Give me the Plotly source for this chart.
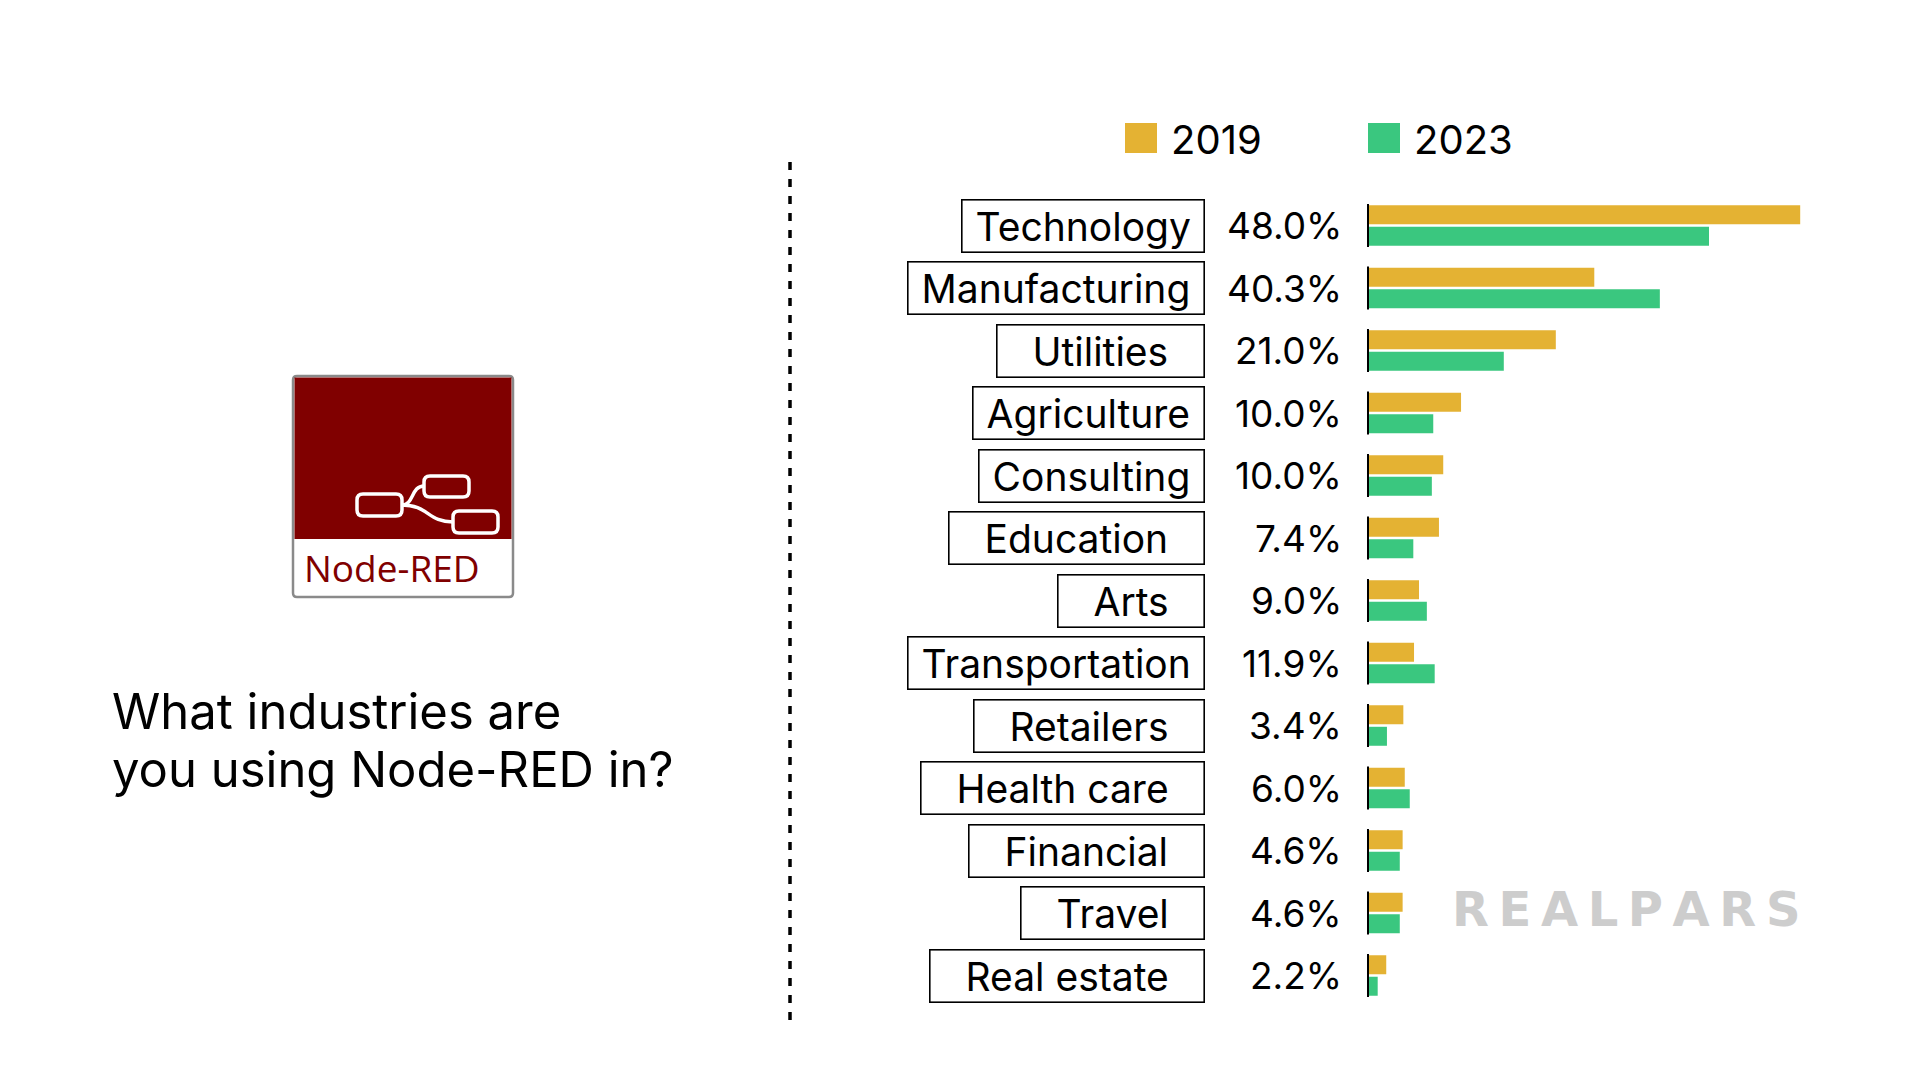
"""
Node-RED survey slide: industries using Node-RED, 2019 vs 2023, redrawn with plotly.
"""
import plotly.graph_objects as go

W, H = 1920, 1080

industries = ['Technology', 'Manufacturing', 'Utilities', 'Agriculture', 'Consulting',
              'Education', 'Arts', 'Transportation', 'Retailers', 'Health care',
              'Financial', 'Travel', 'Real estate']
reported_share = [48.0, 40.3, 21.0, 10.0, 10.0, 7.4, 9.0, 11.9, 3.4, 6.0, 4.6, 4.6, 2.2]
share_2019 = [60.8, 31.9, 26.5, 13.2, 10.7, 10.1, 7.3, 6.6, 5.1, 5.3, 5.0, 5.0, 2.7]
share_2023 = [48.0, 41.1, 19.2, 9.3, 9.1, 6.5, 8.4, 9.5, 2.8, 6.0, 4.6, 4.6, 1.5]
years = ['2019', '2023']

ORANGE = '#E4B233'
GREEN = '#3AC77F'
DARK_RED = '#800000'
FONT = 'Inter'
# label boxes that were drawn with extra room around the word
ROOMY_BOXES = {'Utilities', 'Education', 'Arts', 'Retailers', 'Health care', 'Financial',
               'Travel', 'Real estate'}


def px(x: float) -> float:
    """pixel x -> paper x"""
    return x / W


def py(y: float) -> float:
    """pixel y (from top) -> paper y"""
    return 1 - y / H


def rounded_rect(x0, y0, x1, y1, r):
    """svg path (paper coords) for a rounded rectangle given in pixels"""
    pts = [('M', x0 + r, y0), ('L', x1 - r, y0), ('Q', x1, y0, x1, y0 + r),
           ('L', x1, y1 - r), ('Q', x1, y1, x1 - r, y1), ('L', x0 + r, y1),
           ('Q', x0, y1, x0, y1 - r), ('L', x0, y0 + r), ('Q', x0, y0, x0 + r, y0)]
    out = ''
    for p in pts:
        cmd, coords = p[0], p[1:]
        pairs = [f'{px(coords[i])},{py(coords[i + 1])}' for i in range(0, len(coords), 2)]
        out += cmd + ' '.join(pairs) + ' '
    return out + 'Z'


def curve(x0, y0, cx0, cy0, cx1, cy1, x1, y1):
    """cubic bezier path in paper coords"""
    return (f'M{px(x0)},{py(y0)} C{px(cx0)},{py(cy0)} {px(cx1)},{py(cy1)} '
            f'{px(x1)},{py(y1)}')


rows = list(range(len(industries)))

fig = go.Figure()
fig.add_trace(go.Bar(x=share_2019, y=rows, orientation='h', name=years[0],
                     marker=dict(color=ORANGE, line=dict(width=0))))
fig.add_trace(go.Bar(x=share_2023, y=rows, orientation='h', name=years[1],
                     marker=dict(color=GREEN, line=dict(width=0))))

# short black baseline next to every category
base_x, base_y = [], []
for r in rows:
    base_x += [0, 0, None]
    base_y += [r - 0.345, r + 0.345, None]
fig.add_trace(go.Scatter(x=base_x, y=base_y, mode='lines', showlegend=False,
                         line=dict(color='black', width=4), hoverinfo='skip'))

annotations = []
for r, name, val in zip(rows, industries, reported_share):
    pad = '\u00a0' * (3 if name in ROOMY_BOXES else 1)
    annotations.append(dict(x=px(1205), xref='paper', y=r, yref='y', xanchor='right',
                            yanchor='middle', text=pad + name + pad,
                            showarrow=False, bordercolor='black', borderwidth=1.6,
                            borderpad=2, bgcolor='white',
                            font=dict(family=FONT, size=39, color='black')))
    annotations.append(dict(x=px(1344), xref='paper', y=r, yref='y', xanchor='right',
                            yanchor='middle', text=f'{val:.1f}%', showarrow=False,
                            font=dict(family=FONT, size=37, color='black')))

shapes = []
# legend swatches
for x0, col, year in [(1125, ORANGE, years[0]), (1368, GREEN, years[1])]:
    shapes.append(dict(type='rect', xref='paper', yref='paper', x0=px(x0), x1=px(x0 + 32),
                       y0=py(153), y1=py(123), fillcolor=col, line=dict(width=0)))
    annotations.append(dict(x=px(x0 + 44), y=py(139), xref='paper', yref='paper',
                            xanchor='left', yanchor='middle', text=year, showarrow=False,
                            font=dict(family=FONT, size=40, color='black')))

# dotted divider
shapes.append(dict(type='line', xref='paper', yref='paper', x0=px(790), x1=px(790),
                   y0=py(162), y1=py(1020), line=dict(color='black', width=3.5,
                                                      dash='8px,9px')))

# Node-RED logo
shapes.append(dict(type='path', xref='paper', yref='paper',
                   path=rounded_rect(293, 376, 513, 597, 4), fillcolor='white',
                   line=dict(color='#8a8a8a', width=2.5)))
shapes.append(dict(type='rect', xref='paper', yref='paper', x0=px(294.5), x1=px(511.5),
                   y0=py(539), y1=py(377.5), fillcolor=DARK_RED, line=dict(width=0)))
for bx0, by0, bx1, by1 in [(357, 494, 402, 516), (424, 476, 469, 497), (453, 511, 498, 533)]:
    shapes.append(dict(type='path', xref='paper', yref='paper',
                       path=rounded_rect(bx0, by0, bx1, by1, 6),
                       line=dict(color='white', width=3.5)))
shapes.append(dict(type='path', xref='paper', yref='paper',
                   path=curve(402, 505, 414, 505, 411, 486, 424, 486),
                   line=dict(color='white', width=3.5)))
shapes.append(dict(type='path', xref='paper', yref='paper',
                   path=curve(402, 505, 428, 505, 428, 522, 453, 522),
                   line=dict(color='white', width=3.5)))
annotations.append(dict(x=px(302), y=py(567), xref='paper', yref='paper', xanchor='left',
                        yanchor='middle', text='Node-RED', showarrow=False,
                        font=dict(family='Open Sans', size=37, color=DARK_RED)))

# question text, one annotation per line to get the tighter line spacing
for line, y in [('What industries are', 711), ('you using Node-RED in?', 770)]:
    annotations.append(dict(x=px(110), y=py(y), xref='paper', yref='paper', xanchor='left',
                            yanchor='middle', text=line, showarrow=False,
                            font=dict(family=FONT, size=49, color='black')))

# watermark
annotations.append(dict(x=px(1626), y=py(909), xref='paper', yref='paper',
                        xanchor='center', yanchor='middle',
                        text='\u2009'.join('REALPARS'), showarrow=False,
                        font=dict(family='DejaVu Sans', size=48, color='#cdcdcd',
                                  weight='bold')))

fig.update_layout(
    width=W, height=H,
    margin=dict(l=0, r=0, t=0, b=0),
    paper_bgcolor='white', plot_bgcolor='white',
    barmode='group', bargap=0.31, bargroupgap=0.12,
    showlegend=False,
    xaxis=dict(domain=[px(1367), px(1367 + 7.125 * 70)], range=[0, 70], visible=False,
               fixedrange=True),
    yaxis=dict(domain=[py(1006.75), py(194.25)], range=[12.5, -0.5], visible=False,
               fixedrange=True),
    annotations=annotations,
    shapes=shapes,
)

fig.write_html("out.html", config={'displayModeBar': False},
               post_script="document.body.style.margin = '0';")
